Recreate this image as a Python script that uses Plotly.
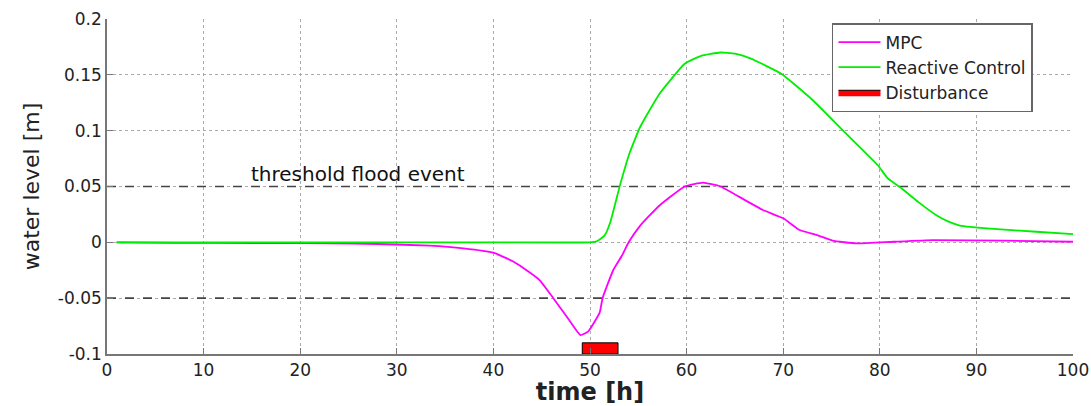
import plotly.graph_objects as go

# ---- data ----
mpc_x = [1, 7, 15, 23, 28, 33.4, 36.9, 40, 42, 43.1, 44.8, 46.2, 47.6, 49, 49.8, 51, 51.3, 52.4, 53.3, 54, 55.2, 57.2, 59.8, 61.7, 63.5, 66, 67.9, 70, 71.7, 73.5, 75.1, 77.6, 81.4, 85.5, 93, 100]
mpc_y = [0, -0.0005, -0.0006, -0.0008, -0.0015, -0.003, -0.0054, -0.0093, -0.017, -0.023, -0.034, -0.050, -0.0666, -0.083, -0.080, -0.063, -0.050, -0.025, -0.012, 0.0, 0.015, 0.033, 0.050, 0.0535, 0.050, 0.038, 0.029, 0.0215, 0.011, 0.0065, 0.0015, -0.001, 0.0005, 0.002, 0.0015, 0.0005]

rc_x = [1, 10, 20, 30, 40, 50, 50.7, 51.5, 52.1, 53.1, 54.1, 55.2, 57.2, 59.8, 61.5, 63.5, 65, 66.6, 69.8, 73.1, 76.2, 79.8, 80.8, 82.3, 84, 85.9, 87, 88.3, 91.8, 96.2, 100]
rc_y = [0, 0, 0, 0, 0, 0, 0.001, 0.006, 0.018, 0.051, 0.080, 0.1035, 0.133, 0.160, 0.167, 0.170, 0.169, 0.1647, 0.151, 0.127, 0.100, 0.069, 0.0575, 0.048, 0.036, 0.024, 0.019, 0.015, 0.012, 0.0095, 0.0074]

dist_start = 49.2
dist_end = 52.9
dist_bottom = -0.1
dist_top = -0.09

thresholds = [0.05, -0.05]
x_ticks = [0, 10, 20, 30, 40, 50, 60, 70, 80, 90, 100]
y_ticks = [-0.1, -0.05, 0, 0.05, 0.1, 0.15, 0.2]
y_labels = ["-0.1", "-0.05", "0", "0.05", "0.1", "0.15", "0.2"]

FONT = "DejaVu Sans, Liberation Sans, sans-serif"

fig = go.Figure()

for th in thresholds:
    fig.add_trace(go.Scatter(x=[0, 100], y=[th, th], mode="lines",
                             line=dict(color="#444444", width=1.6, dash="dash"),
                             showlegend=False, hoverinfo="skip"))

fig.add_trace(go.Scatter(x=mpc_x, y=mpc_y, mode="lines", name="MPC",
                         line=dict(color="#ff00ff", width=1.8, shape="spline", smoothing=0.4)))
fig.add_trace(go.Scatter(x=rc_x, y=rc_y, mode="lines", name="Reactive Control",
                         line=dict(color="#00ee00", width=1.8, shape="spline", smoothing=0.4)))
fig.add_trace(go.Scatter(x=[dist_start, dist_end, dist_end, dist_start, dist_start],
                         y=[dist_bottom, dist_bottom, dist_top, dist_top, dist_bottom],
                         mode="lines", fill="toself", fillcolor="#ff0000",
                         line=dict(color="black", width=1.0), name="Disturbance",
                         hoverinfo="skip"))

fig.add_annotation(x=26, y=0.05, text="threshold flood event", showarrow=False,
                   yanchor="bottom", yshift=-1, font=dict(size=20, color="#111111", family=FONT))

fig.update_layout(
    width=1091, height=406,
    margin=dict(l=107, r=18, t=19, b=52),
    plot_bgcolor="white", paper_bgcolor="white",
    font=dict(family=FONT, size=17, color="#222222"),
    legend=dict(x=0.7505, y=0.988, xanchor="left", yanchor="top",
                bordercolor="#666666", borderwidth=1.5, bgcolor="white",
                font=dict(size=17), tracegroupgap=0, itemwidth=42),
)

fig.update_xaxes(range=[0, 100], tickvals=x_ticks, showgrid=True, gridcolor="#aaaaaa",
                 griddash="dot", gridwidth=1, zeroline=False, showline=True,
                 linecolor="#777777", linewidth=1.5, ticks="inside", ticklen=6,
                 tickcolor="#777777", tickfont=dict(size=17), automargin=False,
                 title=dict(text="<b>time [h]</b>", font=dict(size=24), standoff=3))
fig.update_yaxes(range=[-0.1, 0.2], tickvals=y_ticks, ticktext=y_labels, showgrid=True,
                 gridcolor="#aaaaaa", griddash="dot", gridwidth=1, zeroline=False,
                 showline=True, linecolor="#777777", linewidth=1.5, ticks="inside",
                 ticklen=6, tickcolor="#777777", tickfont=dict(size=17), automargin=False,
                 title=dict(text="water level [m]", font=dict(size=22), standoff=12))

fig.write_html("out.html")
